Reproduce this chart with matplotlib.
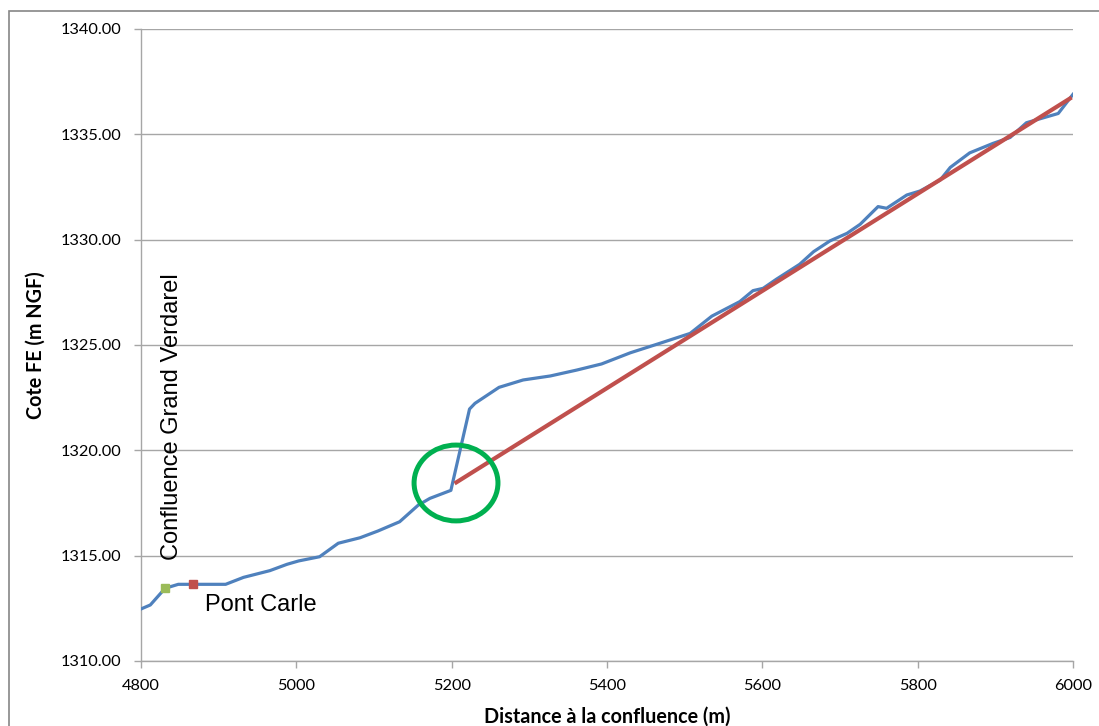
import matplotlib
matplotlib.use("Agg")
import matplotlib.pyplot as plt
from matplotlib.patches import Ellipse, Rectangle
from matplotlib.ticker import FuncFormatter

# Water surface profile (blue)
dist = [4800, 4812, 4831, 4848, 4867, 4909, 4932, 4966, 4988, 5003, 5030, 5054,
        5082, 5105, 5133, 5157, 5172, 5199, 5223, 5230, 5261, 5292, 5327, 5361,
        5393, 5430, 5468, 5507, 5535, 5571, 5588, 5601, 5618, 5648, 5666, 5687,
        5709, 5726, 5749, 5760, 5786, 5803, 5829, 5842, 5867, 5897, 5919, 5940,
        5981, 6000]
cote = [1312.47, 1312.66, 1313.45, 1313.64, 1313.64, 1313.64, 1313.97, 1314.29,
        1314.59, 1314.75, 1314.95, 1315.59, 1315.85, 1316.17, 1316.61, 1317.40,
        1317.72, 1318.10, 1321.96, 1322.23, 1322.99, 1323.34, 1323.53, 1323.81,
        1324.10, 1324.63, 1325.08, 1325.55, 1326.37, 1327.06, 1327.58, 1327.69,
        1328.12, 1328.83, 1329.43, 1329.94, 1330.30, 1330.73, 1331.57, 1331.49,
        1332.12, 1332.31, 1332.83, 1333.43, 1334.12, 1334.57, 1334.85, 1335.55,
        1335.99, 1336.90]

# Trend line (red)
trend_x = [5206, 5996]
trend_y = [1318.48, 1336.70]

# Point markers
confluence_x = [4831]
confluence_y = [1313.45]
pont_x = [4867]
pont_y = [1313.64]

# Green circle highlight (center x, center y, width, height)
circle_cx, circle_cy, circle_w, circle_h = 5205.6, 1318.45, 108, 3.6

xticks = [4800, 5000, 5200, 5400, 5600, 5800, 6000]
yticks = [1310, 1315, 1320, 1325, 1330, 1335, 1340]

fig = plt.figure(figsize=(10.99, 7.26), dpi=100)
fig.patches.append(Rectangle((8.5 / 1099, -0.1), 1.2, 1 - 11.5 / 726 + 0.1,
                             transform=fig.transFigure, fill=False,
                             edgecolor="#868686", linewidth=1.2))
ax = fig.add_axes([141 / 1099, 1 - 661 / 726, (1073 - 141) / 1099, (661 - 29) / 726])

tick_font = "Lato"
ax.set_xlim(4800, 6000)
ax.set_ylim(1310, 1340)
ax.set_xticks(xticks)
ax.set_yticks(yticks)
ax.yaxis.set_major_formatter(FuncFormatter(lambda v, p: f"{v:.2f}"))
ax.grid(axis="y", color="#A6A6A6", linewidth=1.0)
ax.set_axisbelow(True)
for s in ["top", "right"]:
    ax.spines[s].set_visible(False)
for s in ["left", "bottom"]:
    ax.spines[s].set_color("#A6A6A6")
    ax.spines[s].set_linewidth(1.0)
ax.tick_params(axis="both", colors="#A6A6A6", labelcolor="black", length=5,
               width=1.0, labelsize=11.8)
ax.tick_params(axis="x", pad=8)
ax.tick_params(axis="y", pad=9)
for lab in ax.get_xticklabels() + ax.get_yticklabels():
    lab.set_family(tick_font)

ax.plot(dist, cote, color="#4F81BD", linewidth=2.3, zorder=3)
ax.plot(trend_x, trend_y, color="#C0504D", linewidth=3.0, zorder=4)
ax.plot(confluence_x, confluence_y, "s", color="#9BBB59", markersize=6, zorder=5)
ax.plot(pont_x, pont_y, "s", color="#C0504D", markersize=6, zorder=5)

ax.add_patch(Ellipse((circle_cx, circle_cy), circle_w, circle_h, fill=False,
                     edgecolor="#00B050", linewidth=3.6, zorder=6))

ax.text(4840, 1314.8, "Confluence Grand Verdarel", rotation=90, ha="center",
        va="bottom", fontsize=17, family="Liberation Sans")
ax.text(4882, 1312.66, "Pont Carle", ha="left", va="center", fontsize=17,
        family="Liberation Sans")

ax.set_xlabel("Distance à la confluence (m)", fontsize=14.2, fontweight="bold",
              family=tick_font, labelpad=9.5)
ax.set_ylabel("Cote FE (m NGF)", fontsize=14.2, fontweight="bold",
              family=tick_font, labelpad=11)

fig.savefig("out.png", dpi=100)
